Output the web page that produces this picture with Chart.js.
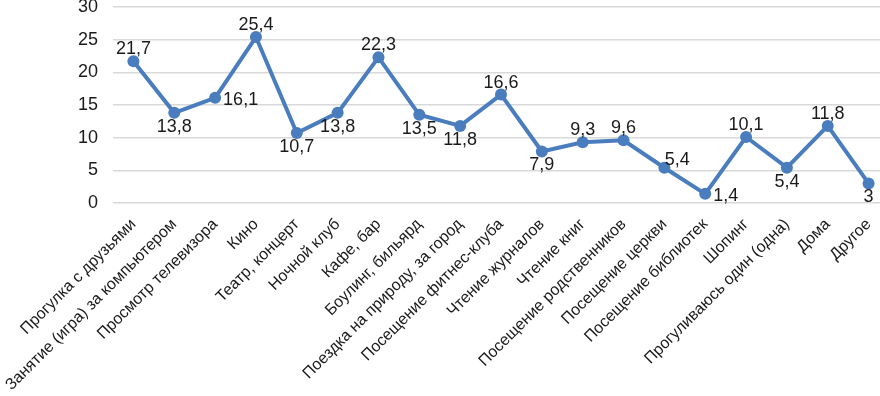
<!DOCTYPE html>
<html>
<head>
<meta charset="utf-8">
<script src="https://cdn.jsdelivr.net/npm/chart.js@4.4.0/dist/chart.umd.min.js"></script>
<style>
  html, body { margin: 0; padding: 0; background: #fff; overflow: hidden; }
  #wrap { width: 895px; height: 396px; }
</style>
</head>
<body>
<div id="wrap"><canvas id="leisure-chart"></canvas></div>
<script>
const categories = [
  'Прогулка с друзьями',
  'Занятие (игра) за компьютером',
  'Просмотр телевизора',
  'Кино',
  'Театр, концерт',
  'Ночной клуб',
  'Кафе, бар',
  'Боулинг, бильярд',
  'Поездка на природу, за город',
  'Посещение фитнес-клуба',
  'Чтение журналов',
  'Чтение книг',
  'Посещение родственников',
  'Посещение церкви',
  'Посещение библиотек',
  'Шопинг',
  'Прогуливаюсь один (одна)',
  'Дома',
  'Другое'
];
const shares = [21.7, 13.8, 16.1, 25.4, 10.7, 13.8, 22.3, 13.5, 11.8, 16.6, 7.9, 9.3, 9.6, 5.4, 1.4, 10.1, 5.4, 11.8, 3];
const yMin = 0;
const yMax = 30;
const yStep = 5;

// where each value label sits relative to its point
const labelPos = ['above', 'below', 'right', 'above', 'below', 'below', 'above', 'below', 'below', 'above',
  'below', 'above', 'above', 'aboveRight', 'right', 'above', 'below', 'above', 'below'];

const textColor = '#1a1a1a';
const lineColor = '#4a7dbd';
Chart.defaults.font.family = '"Liberation Sans", Arial, sans-serif';

const pointLabels = {
  id: 'pointLabels',
  afterDatasetsDraw(chart) {
    const { ctx } = chart;
    const meta = chart.getDatasetMeta(0);
    ctx.save();
    ctx.font = '18px "Liberation Sans", Arial, sans-serif';
    ctx.fillStyle = textColor;
    meta.data.forEach((pt, i) => {
      const text = String(shares[i]).replace('.', ',');
      const pos = labelPos[i];
      if (pos === 'above') {
        ctx.textAlign = 'center';
        ctx.textBaseline = 'alphabetic';
        ctx.fillText(text, pt.x, pt.y - 7);
      } else if (pos === 'below') {
        ctx.textAlign = 'center';
        ctx.textBaseline = 'top';
        ctx.fillText(text, pt.x, pt.y + 5);
      } else if (pos === 'right') {
        ctx.textAlign = 'left';
        ctx.textBaseline = 'middle';
        ctx.fillText(text, pt.x + 8, pt.y + 2);
      } else {
        ctx.textAlign = 'center';
        ctx.textBaseline = 'alphabetic';
        ctx.fillText(text, pt.x + 13, pt.y - 3);
      }
    });
    ctx.restore();
  }
};

new Chart(document.getElementById('leisure-chart'), {
  type: 'line',
  data: {
    labels: categories,
    datasets: [{
      data: shares,
      borderColor: lineColor,
      backgroundColor: lineColor,
      borderWidth: 4,
      pointRadius: 6,
      pointBorderWidth: 0,
      tension: 0
    }]
  },
  options: {
    responsive: true,
    maintainAspectRatio: false,
    animation: false,
    layout: { padding: { top: 7, left: 0, right: 0, bottom: 0 } },
    plugins: {
      legend: { display: false },
      tooltip: { enabled: false }
    },
    scales: {
      x: {
        offset: true,
        grid: { display: false, drawTicks: false },
        border: { display: false },
        ticks: {
          autoSkip: false,
          minRotation: 45,
          maxRotation: 45,
          padding: 12,
          color: textColor,
          font: { size: 16 }
        },
        afterFit(scale) {
          scale.height = 193;
          scale.paddingLeft = 0;
          scale.paddingRight = 0;
        }
      },
      y: {
        min: yMin,
        max: yMax,
        grid: { color: '#d9d9d9', lineWidth: 1.5, drawTicks: false },
        border: { display: false },
        ticks: {
          stepSize: yStep,
          padding: 15,
          color: textColor,
          font: { size: 18 }
        },
        afterFit(scale) {
          scale.width = 113;
          scale.paddingTop = 0;
          scale.paddingBottom = 0;
        }
      }
    }
  },
  plugins: [pointLabels]
});
</script>
</body>
</html>
